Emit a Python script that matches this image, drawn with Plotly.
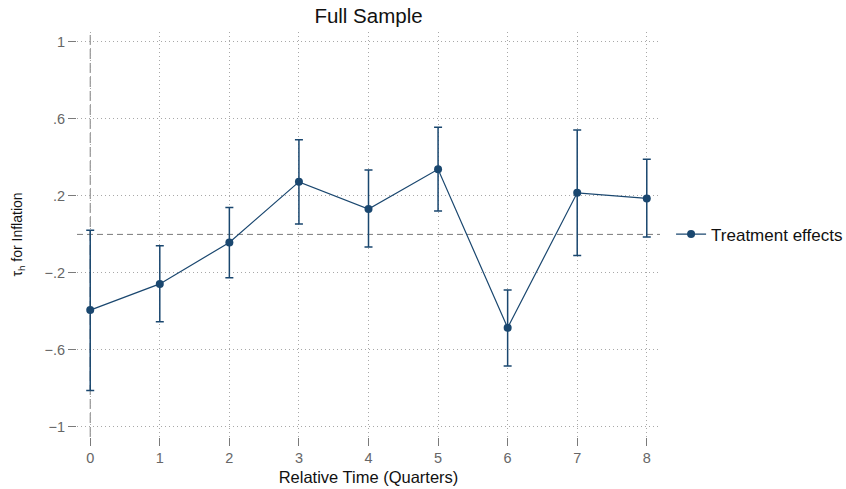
import plotly.graph_objects as go

# relative time (quarters) and estimated treatment effects with 95% CI
periods = [0, 1, 2, 3, 4, 5, 6, 7, 8]
effects = [-0.393, -0.257, -0.042, 0.273, 0.132, 0.338, -0.485, 0.216, 0.187]
ci_upper = [0.022, -0.059, 0.140, 0.491, 0.334, 0.556, -0.289, 0.542, 0.390]
ci_lower = [-0.811, -0.454, -0.225, 0.054, -0.066, 0.121, -0.683, -0.109, -0.014]

y_ticks = [-1, -0.6, -0.2, 0.2, 0.6, 1]
y_tick_labels = ["\u22121", "\u2212.6", "\u2212.2", ".2", ".6", "1"]

navy = "#1a476f"

# error bar lengths from the CI bounds
err_plus = [u - e for u, e in zip(ci_upper, effects)]
err_minus = [e - l for e, l in zip(effects, ci_lower)]

fig = go.Figure()

fig.add_trace(go.Scatter(
    x=periods,
    y=effects,
    mode="lines+markers",
    name="Treatment effects",
    line=dict(color=navy, width=1.2),
    marker=dict(color=navy, size=8),
    error_y=dict(type="data", array=err_plus, arrayminus=err_minus,
                 color=navy, thickness=1.5, width=4),
))

# reference lines at time 0 and effect 0
fig.add_shape(type="line", xref="x", yref="paper", x0=0, x1=0, y0=0, y1=1,
              line=dict(color="#7a7a7a", width=1, dash="10px,4px"), layer="below")
fig.add_shape(type="line", xref="paper", yref="y", x0=0, x1=1, y0=0, y1=0,
              line=dict(color="#7a7a7a", width=1, dash="6px,4px"), layer="below")

fig.update_layout(
    width=846,
    height=489,
    margin=dict(l=77, r=186, t=32, b=52, autoexpand=False),
    paper_bgcolor="white",
    plot_bgcolor="white",
    font=dict(family="Liberation Sans, Arial, sans-serif", size=14, color="#222222"),
    title=dict(text="Full Sample", x=(77 + 660) / 2 / 846, xanchor="center",
               y=0.967, yanchor="middle", font=dict(size=20.5, color="#111111")),
    showlegend=True,
    legend=dict(x=1.019, y=0.5, xanchor="left", yanchor="middle",
                font=dict(size=17, color="#111111"), bgcolor="rgba(0,0,0,0)"),
)

fig.update_xaxes(
    range=[-0.19, 8.19],
    tickvals=periods,
    ticks="outside", ticklen=8, tickcolor="#7a7a7a",
    tickfont=dict(size=14.5, color="#666666"),
    showline=False, zeroline=False, automargin=False,
    showgrid=True, gridcolor="#a8a8a8", griddash="1px,3px", gridwidth=1,
    title=dict(text="Relative Time (Quarters)", font=dict(size=16.5, color="#111111"),
               standoff=6),
)

fig.update_yaxes(
    range=[-1.052, 1.051],
    tickvals=y_ticks,
    ticktext=y_tick_labels,
    ticks="outside", ticklen=8, tickcolor="#7a7a7a",
    tickfont=dict(size=14.5, color="#666666"),
    showline=False, zeroline=False, automargin=False,
    showgrid=True, gridcolor="#a8a8a8", griddash="1px,3px", gridwidth=1,
    title=dict(text="\u03c4<sub>h</sub> for Inflation", font=dict(size=14, color="#111111"),
               standoff=18),
)

# drop the browser's default page margin so the figure sits at the window corner
fig.write_html("out.html", config={"displayModeBar": False},
               post_script="document.body.style.margin = '0';")
